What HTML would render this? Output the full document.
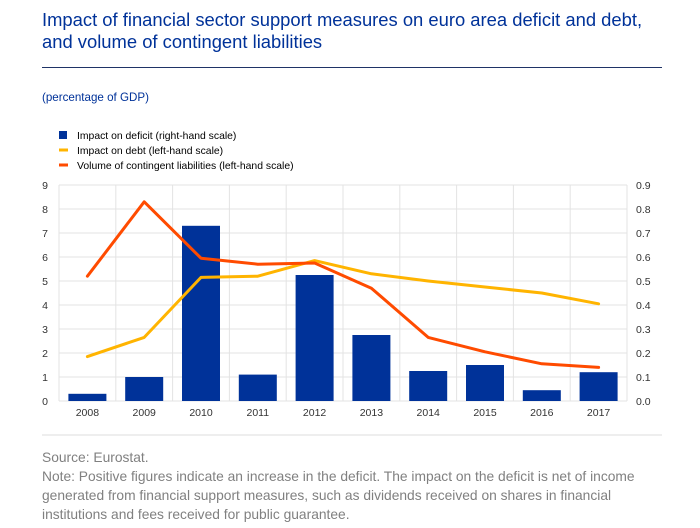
<!DOCTYPE html>
<html><head><meta charset="utf-8"><style>
body{margin:0;background:#fff;width:700px;height:528px;overflow:hidden;font-family:"Liberation Sans",sans-serif}
.t{position:absolute;left:42px;top:9px;color:#003299;font-size:18.4px;line-height:22px}
</style></head><body>
<div class="t">Impact of financial sector support measures on euro area deficit and debt,<br>and volume of contingent liabilities</div>
<svg id="c" width="700" height="528" style="position:absolute;left:0;top:0">
<line x1="42" y1="67.5" x2="662" y2="67.5" stroke="#1f3366" stroke-width="1"/>
<text x="42" y="101" font-size="11.6" fill="#003299">(percentage of GDP)</text>
<g font-size="10.4" fill="#000">
<rect x="59" y="131" width="8" height="8" fill="#003299"/>
<text x="77" y="139">Impact on deficit (right-hand scale)</text>
<line x1="59" y1="150" x2="68" y2="150" stroke="#ffb400" stroke-width="3"/>
<text x="77" y="154">Impact on debt (left-hand scale)</text>
<line x1="59" y1="165" x2="68" y2="165" stroke="#ff4b00" stroke-width="3"/>
<text x="77" y="169">Volume of contingent liabilities (left-hand scale)</text>
</g>
<g id="plot"></g>
<line x1="42" y1="435" x2="662" y2="435" stroke="#ddd"/>
<g font-size="13.8" fill="#808080">
<text x="42" y="462">Source: Eurostat.</text>
<text x="42" y="481">Note: Positive figures indicate an increase in the deficit. The impact on the deficit is net of income</text>
<text x="42" y="500">generated from financial support measures, such as dividends received on shares in financial</text>
<text x="42" y="519">institutions and fees received for public guarantee.</text>
</g>
</svg>
<script>
const categories=["2008","2009","2010","2011","2012","2013","2014","2015","2016","2017"];
const deficit=[0.03,0.10,0.73,0.11,0.525,0.275,0.125,0.15,0.045,0.12];
const debt=[1.85,2.65,5.15,5.2,5.85,5.3,5.0,4.75,4.5,4.05];
const contingent=[5.2,8.3,5.95,5.7,5.75,4.7,2.65,2.05,1.55,1.4];
const leftTicks=[0,1,2,3,4,5,6,7,8,9];
const rightTicks=["0.0","0.1","0.2","0.3","0.4","0.5","0.6","0.7","0.8","0.9"];
const X0=59,X1=627,Y0=401,Y1=185;
const bw=(X1-X0)/categories.length;
const xc=i=>X0+bw*(i+0.5);
const yl=v=>Y0-(v/9)*(Y0-Y1);
const yr=v=>Y0-(v/0.9)*(Y0-Y1);
const g=document.getElementById('plot');
const NS='http://www.w3.org/2000/svg';
function mk(t,a){const e=document.createElementNS(NS,t);for(const k in a)e.setAttribute(k,a[k]);g.appendChild(e);return e;}
leftTicks.forEach((v,i)=>{
 const y=yl(v);
 const l=mk('line',{x1:X0,x2:X1,y1:y,y2:y,stroke:'#e3e3e3'});
 
 
 const t=mk('text',{x:48,y:y+4,'font-size':10.5,fill:'#333','text-anchor':'end'});t.textContent=v;
 
 
 const r=mk('text',{x:636,y:y+4,'font-size':10.5,fill:'#333'});r.textContent=rightTicks[i];
 
 
});
for(let i=0;i<=categories.length;i++){
 const x=X0+bw*i;
 const l=mk('line',{x1:x,x2:x,y1:Y1,y2:Y0,stroke:'#e3e3e3'});
 
 
}
categories.forEach((c,i)=>{
 const t=mk('text',{x:xc(i),y:416,'font-size':10.5,fill:'#333','text-anchor':'middle'});t.textContent=c;
 
 
 const y=yr(deficit[i]);
 const b=mk('rect',{x:xc(i)-19,y:y,width:38,height:Y0-y,fill:'#003299'});
 
 
});
function line(arr,col,name){
 const p=mk('polyline',{points:arr.map((v,i)=>xc(i)+','+yl(v)).join(' '),fill:'none',stroke:col,'stroke-width':3,'stroke-linejoin':'round','stroke-linecap':'round'});
 
 
}
line(debt,'#ffb400','line-debt');
line(contingent,'#ff4b00','line-contingent');
</script>
</body></html>
